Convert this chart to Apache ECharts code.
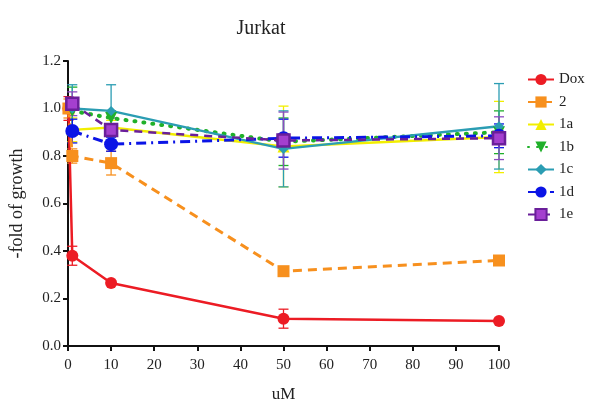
<!DOCTYPE html>
<html>
<head>
<meta charset="utf-8">
<script src="https://cdn.jsdelivr.net/npm/echarts@6/dist/echarts.min.js"></script>
<style>
    html, body { margin: 0; padding: 0; background: #fff; }
    #chart { width: 591px; height: 400px; }
</style>
</head>
<body>
<div id="chart"></div>
<script>
// concentrations (uM)
var doseDox = [0.1, 1, 10, 50, 100];
var doseCmp = [1, 10, 50, 100];

// fold of growth, mean values
var dox = [1.00, 0.38, 0.265, 0.115, 0.105];
var cmp2 = [1.00, 0.80, 0.77, 0.315, 0.36];
var c1a = [0.91, 0.92, 0.84, 0.88];
var c1b = [0.99, 0.96, 0.86, 0.90];
var c1c = [1.00, 0.99, 0.83, 0.925];
var c1d = [0.905, 0.85, 0.875, 0.885];
var c1e = [1.02, 0.91, 0.865, 0.875];

// error bar half widths
var doxErr = [0.05, 0.04, 0.01, 0.04, 0.01];
var cmp2Err = [0.04, 0.03, 0.05, 0.01, 0.01];
var c1aErr = [0.05, 0.03, 0.17, 0.15];
var c1bErr = [0.10, 0.03, 0.10, 0.09];
var c1cErr = [0.10, 0.11, 0.16, 0.18];
var c1dErr = [0.05, 0.03, 0.08, 0.05];
var c1eErr = [0.05, 0.05, 0.12, 0.09];

var names = ['Dox', '2', '1a', '1b', '1c', '1d', '1e'];

var chart = echarts.init(document.getElementById('chart'));
var serif = '"Liberation Serif", "DejaVu Serif", serif';

function pairs(xs, ys) {
    var out = [];
    for (var i = 0; i < xs.length; i++) {
        out.push([xs[i], ys[i]]);
    }
    return out;
}

function errData(xs, ys, es) {
    var out = [];
    for (var i = 0; i < xs.length; i++) {
        out.push([xs[i], ys[i] - es[i], ys[i] + es[i]]);
    }
    return out;
}

function errSeries(name, color, xs, ys, es) {
    return {
        name: name + ' err',
        type: 'custom',
        data: errData(xs, ys, es),
        z: 1,
        renderItem: function (params, api) {
            var lo = api.coord([api.value(0), api.value(1)]);
            var hi = api.coord([api.value(0), api.value(2)]);
            var w = 5;
            var st = { stroke: color, lineWidth: 1.3 };
            return {
                type: 'group',
                children: [
                    { type: 'line', shape: { x1: hi[0], y1: hi[1], x2: lo[0], y2: lo[1] }, style: st },
                    { type: 'line', shape: { x1: hi[0] - w, y1: hi[1], x2: hi[0] + w, y2: hi[1] }, style: st },
                    { type: 'line', shape: { x1: lo[0] - w, y1: lo[1], x2: lo[0] + w, y2: lo[1] }, style: st }
                ]
            };
        }
    };
}

function lineSeries(name, color, xs, ys, opt) {
    return {
        name: name,
        type: 'line',
        data: pairs(xs, ys),
        z: 3,
        symbol: opt.symbol,
        symbolSize: opt.size,
        symbolRotate: opt.rotate || 0,
        itemStyle: { color: opt.fill || color, borderColor: color, borderWidth: opt.border || 0 },
        lineStyle: { color: color, width: opt.width || 2.5, type: opt.type || 'solid', cap: opt.cap || 'butt' }
    };
}

var colors = {
    'Dox': '#ec1c24',
    '2': '#f7901e',
    '1a': '#f2ee00',
    '1b': '#20b02a',
    '1c': '#2b9db3',
    '1d': '#0b14e6',
    '1e': '#6a1f9a'
};

var option = {
    animation: false,
    backgroundColor: '#fff',
    title: {
        text: 'Jurkat',
        left: 256,
        top: 14,
        textAlign: 'center',
        textStyle: { fontFamily: serif, fontSize: 20, fontWeight: 'normal', color: '#222' }
    },
    legend: {
        data: names,
        orient: 'vertical',
        left: 522,
        top: 67,
        itemWidth: 26,
        itemHeight: 14,
        itemGap: 7.5,
        textStyle: { fontFamily: serif, fontSize: 15, color: '#222' }
    },
    grid: { left: 68, right: 92, top: 61, bottom: 54, outerBoundsMode: 'none', containLabel: false },
    xAxis: {
        type: 'value',
        min: 0,
        max: 100,
        interval: 10,
        name: 'uM',
        nameLocation: 'middle',
        nameGap: 40,
        nameTextStyle: { fontFamily: serif, fontSize: 17, color: '#222' },
        axisLine: { lineStyle: { color: '#111', width: 2 } },
        axisTick: { length: 5, lineStyle: { color: '#111', width: 2 } },
        axisLabel: { fontFamily: serif, fontSize: 15, color: '#222', margin: 12 },
        splitLine: { show: false }
    },
    yAxis: {
        type: 'value',
        min: 0,
        max: 1.2,
        interval: 0.2,
        name: '-fold of growth',
        nameLocation: 'middle',
        nameGap: 42,
        nameTextStyle: { fontFamily: serif, fontSize: 18, color: '#222' },
        axisLine: { show: true, lineStyle: { color: '#111', width: 2 } },
        axisTick: { show: true, length: 5, lineStyle: { color: '#111', width: 2 } },
        axisLabel: {
            fontFamily: serif, fontSize: 15, color: '#222', margin: 7,
            formatter: function (v) { return v.toFixed(1); }
        },
        splitLine: { show: false }
    },
    series: [
        errSeries('Dox', colors['Dox'], doseDox, dox, doxErr),
        errSeries('2', colors['2'], doseDox, cmp2, cmp2Err),
        errSeries('1a', colors['1a'], doseCmp, c1a, c1aErr),
        errSeries('1b', colors['1b'], doseCmp, c1b, c1bErr),
        errSeries('1c', colors['1c'], doseCmp, c1c, c1cErr),
        errSeries('1d', colors['1d'], doseCmp, c1d, c1dErr),
        errSeries('1e', '#8d4cc0', doseCmp, c1e, c1eErr),
        lineSeries('Dox', colors['Dox'], doseDox, dox, { symbol: 'circle', size: 12 }),
        lineSeries('2', colors['2'], doseDox, cmp2, { symbol: 'rect', size: 12, type: [9, 6], width: 3 }),
        lineSeries('1a', colors['1a'], doseCmp, c1a, { symbol: 'triangle', size: 12 }),
        lineSeries('1b', colors['1b'], doseCmp, c1b, { symbol: 'triangle', size: 12, rotate: 180, type: [1, 8], width: 4, cap: 'round' }),
        lineSeries('1c', colors['1c'], doseCmp, c1c, { symbol: 'diamond', size: 10 }),
        lineSeries('1d', colors['1d'], doseCmp, c1d, { symbol: 'circle', size: 14, type: [10, 5, 2, 5], width: 3 }),
        lineSeries('1e', colors['1e'], doseCmp, c1e, { symbol: 'rect', size: 12, fill: '#a43fcf', border: 2.5, type: [8, 6], width: 2.5 })
    ]
};

chart.setOption(option);
</script>
</body>
</html>
